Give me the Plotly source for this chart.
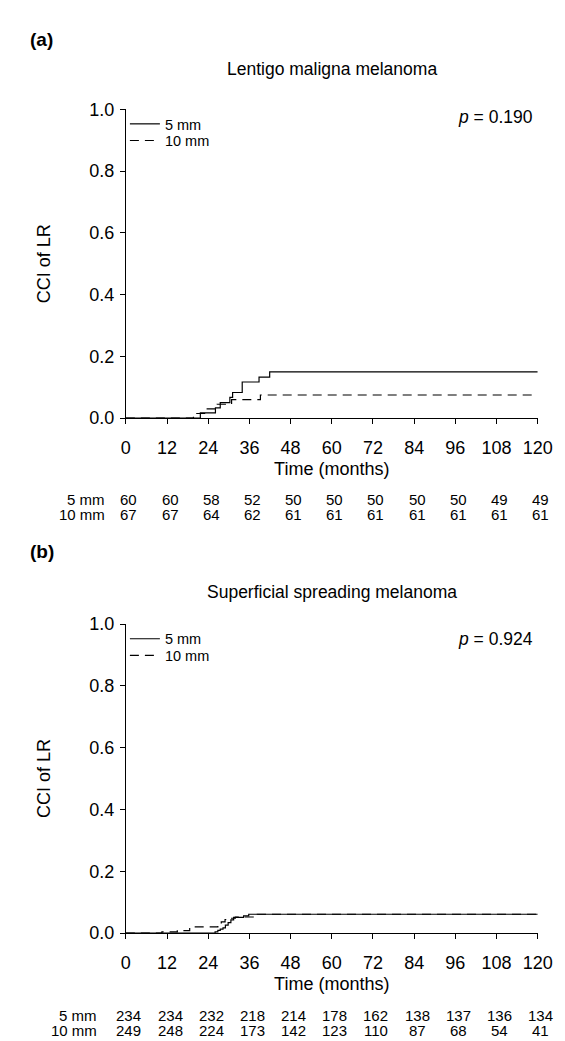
import plotly.graph_objects as go

W, H = 565, 1041

# ---------------- data ----------------
month_ticks = [0, 12, 24, 36, 48, 60, 72, 84, 96, 108, 120]
cci_ticks = [0.0, 0.2, 0.4, 0.6, 0.8, 1.0]
cci_tick_text = ["0.0", "0.2", "0.4", "0.6", "0.8", "1.0"]

series_names = ["5 mm", "10 mm"]

# Panel (a) Lentigo maligna melanoma
a_title = "Lentigo maligna melanoma"
a_p = "0.190"
a_5mm_t = [0, 21.7, 26.1, 27.5, 30.3, 31.1, 33.9, 38.8, 41.9, 120]
a_5mm_v = [0, 0.017, 0.033, 0.050, 0.067, 0.083, 0.117, 0.133, 0.150, 0.150]
a_10mm_t = [0, 19.7, 23.4, 26.6, 30.8, 39.2, 120]
a_10mm_v = [0, 0.015, 0.030, 0.045, 0.060, 0.075, 0.075]
a_risk_5mm = [60, 60, 58, 52, 50, 50, 50, 50, 50, 49, 49]
a_risk_10mm = [67, 67, 64, 62, 61, 61, 61, 61, 61, 61, 61]

# Panel (b) Superficial spreading melanoma
b_title = "Superficial spreading melanoma"
b_p = "0.924"
b_5mm_t = [0, 26.0, 26.8, 27.5, 28.3, 29.0, 29.8, 30.6, 31.4, 34.3, 35.8, 120]
b_5mm_v = [0, 0.004, 0.009, 0.013, 0.017, 0.026, 0.034, 0.043, 0.051, 0.056, 0.061, 0.061]
b_10mm_t = [0, 10.5, 15.0, 18.6, 26.8, 27.8, 28.9, 30.2, 31.9, 38.3, 120]
b_10mm_v = [0, 0.004, 0.008, 0.020, 0.028, 0.036, 0.044, 0.048, 0.052, 0.061, 0.061]
b_risk_5mm = [234, 234, 232, 218, 214, 178, 162, 138, 137, 136, 134]
b_risk_10mm = [249, 248, 224, 173, 142, 123, 110, 87, 68, 54, 41]

# ---------------- layout helpers ----------------
FONT = "Liberation Sans, Arial, Helvetica, sans-serif"


def py(px):
    return 1 - px / H


def px_x(px):
    return px / W


X0, X1 = 117, 544
panels = [
    dict(key="", top=93, bot=408, lab="(a)", title=a_title, p=a_p,
         s5=(a_5mm_t, a_5mm_v), s10=(a_10mm_t, a_10mm_v),
         r5=a_risk_5mm, r10=a_risk_10mm, legends=("legend", "legend2"),
         leg_y=(108, 125), title_y=52, lab_y=22, p_y=101, row_right=97,
         rows=(491, 506)),
    dict(key="2", top=618, bot=933, lab="(b)", title=b_title, p=b_p,
         s5=(b_5mm_t, b_5mm_v), s10=(b_10mm_t, b_10mm_v),
         r5=b_risk_5mm, r10=b_risk_10mm, legends=("legend3", "legend4"),
         leg_y=(633, 650), title_y=585, lab_y=544, p_y=633, row_right=89,
         rows=(1017, 1032)),
]

fig = go.Figure()
annotations = []
layout = {}

for pn in panels:
    k = pn["key"]
    xa = "x" + k
    ya = "y" + k
    styles = [dict(color="black", width=1.2),
              dict(color="black", width=1.2, dash="9px,6px")]
    for name, (tt, vv), st, lg, ly in zip(series_names, (pn["s5"], pn["s10"]), styles,
                                          pn["legends"], pn["leg_y"]):
        fig.add_trace(go.Scatter(
            x=tt, y=vv, mode="lines", line_shape="hv", line=st, name=name,
            xaxis=xa, yaxis=ya, legend=lg, hoverinfo="skip"))
        layout[lg] = dict(
            x=px_x(116), y=py(ly), xanchor="left", yanchor="middle",
            font=dict(size=14.5, color="black", family=FONT), bgcolor="rgba(0,0,0,0)",
            borderwidth=0, tracegroupgap=0,
        )

    layout["xaxis" + k] = dict(
        domain=[px_x(X0), px_x(X1)], range=[0, 120], anchor=ya,
        tickvals=month_ticks, ticks="outside", ticklen=5, tickwidth=1,
        tickcolor="black", showline=True, linecolor="black", linewidth=1,
        showgrid=False, zeroline=False, tickfont=dict(size=18, color="black"),
        ticklabelstandoff=8,
        title=dict(text="Time (months)", font=dict(size=18, color="black"), standoff=5),
    )
    layout["yaxis" + k] = dict(
        domain=[py(pn["bot"]), py(pn["top"])], range=[0, 1], anchor=xa,
        tickvals=cci_ticks, ticktext=cci_tick_text, ticks="outside", ticklen=5,
        tickwidth=1, tickcolor="black", showline=True, linecolor="black",
        linewidth=1, showgrid=False, zeroline=False,
        tickfont=dict(size=18, color="black"), ticklabelstandoff=2,
        title=dict(text="CCI of LR", font=dict(size=18, color="black"), standoff=33),
    )

    # panel label
    annotations.append(dict(text="<b>" + pn["lab"] + "</b>", x=px_x(16), y=py(pn["lab_y"]),
                            xref="paper", yref="paper", xanchor="left", yanchor="middle",
                            showarrow=False, font=dict(size=19, color="black")))
    # title
    annotations.append(dict(text=pn["title"], x=(px_x(X0) + px_x(X1)) / 2, y=py(pn["title_y"]),
                            xref="paper", yref="paper", xanchor="center", yanchor="middle",
                            showarrow=False, font=dict(size=17.5, color="black")))
    # p value
    annotations.append(dict(text="<i>p</i> = " + pn["p"], x=px_x(541), y=py(pn["p_y"]),
                            xref="paper", yref="paper", xanchor="right", yanchor="middle",
                            showarrow=False, font=dict(size=17.5, color="black")))
    # at-risk table
    for name, row, ypx in zip(series_names, (pn["r5"], pn["r10"]), pn["rows"]):
        annotations.append(dict(text=name, x=px_x(pn["row_right"]), y=py(ypx),
                                xref="paper", yref="paper", xanchor="right", yanchor="middle",
                                showarrow=False, font=dict(size=15, color="black")))
        for t, n in zip(month_ticks, row):
            annotations.append(dict(text=str(n), x=t, y=py(ypx), xref=xa, yref="paper",
                                    xanchor="center", yanchor="middle", xshift=3,
                                    showarrow=False, font=dict(size=15, color="black")))

fig.update_layout(
    width=W, height=H, margin=dict(l=0, r=0, t=0, b=0),
    paper_bgcolor="white", plot_bgcolor="white",
    font=dict(family=FONT, color="black"),
    showlegend=True, annotations=annotations, **layout,
)

fig.write_html("out.html")
